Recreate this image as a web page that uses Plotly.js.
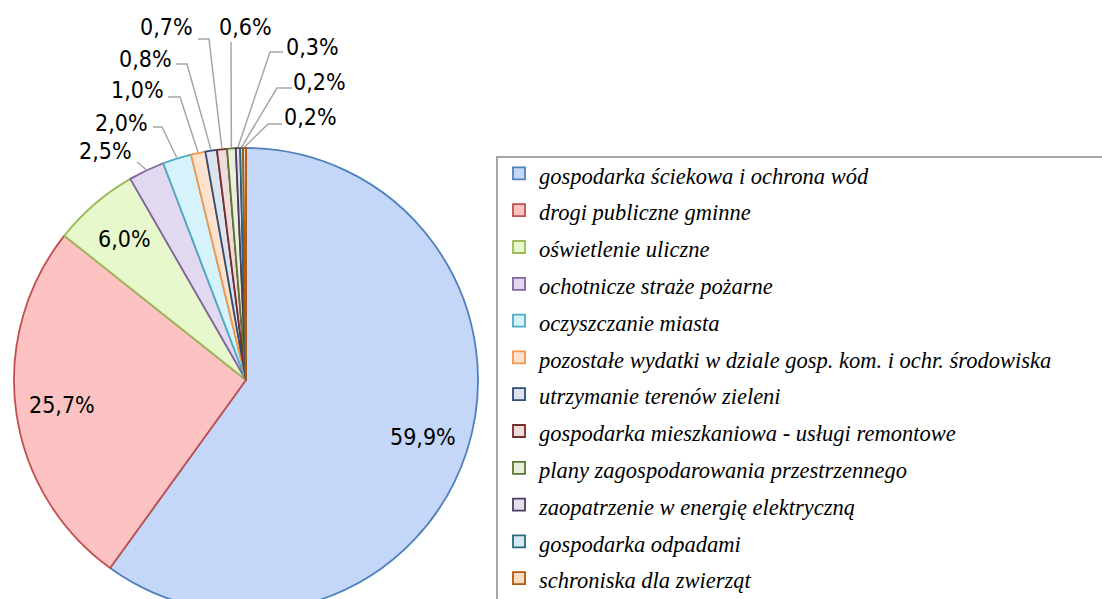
<!DOCTYPE html>
<html><head><meta charset="utf-8">
<script src="https://cdn.plot.ly/plotly-3.0.1.min.js"></script>
<style>html,body{margin:0;padding:0;overflow:hidden;background:#fff}#chart{width:1140px;height:640px}</style>
</head><body><div id="chart"></div>
<script>
// ---- data ----
const categories = [
  'gospodarka ściekowa i ochrona wód',
  'drogi publiczne gminne',
  'oświetlenie uliczne',
  'ochotnicze straże pożarne',
  'oczyszczanie miasta',
  'pozostałe wydatki w dziale gosp. kom. i ochr. środowiska',
  'utrzymanie terenów zieleni',
  'gospodarka mieszkaniowa - usługi remontowe',
  'plany zagospodarowania przestrzennego',
  'zaopatrzenie w energię elektryczną',
  'gospodarka odpadami',
  'schroniska dla zwierząt'
];
const values = [59.9, 25.7, 6.0, 2.5, 2.0, 1.0, 0.8, 0.7, 0.6, 0.3, 0.2, 0.2];

// ---- styles ----
const fillColors = ['#c4d7f9','#fdc2c2','#e7f8cd','#e2d9f1','#d6f3fc','#fde3cf','#dde3ec','#eddcdc','#e8efdc','#e4dfeb','#d7e9ee','#f9dcc6'];
const lineColors = ['#4f81bd','#c0504d','#9bbb59','#8064a2','#4bacc6','#f79646','#2c4d75','#772c2a','#5f7530','#4d3b62','#276a7c','#b65708'];

const W = 1140, H = 640;
const CX = 246, CY = 380, R = 232;
const labelFont = {family: 'Liberation Sans Narrow, DejaVu Sans Condensed, sans-serif', size: 23, color: '#000'};
const insideFrac = 0.8;
const outsideLabels = {
  3:  {t: [105,151], path: [[137,162]]},
  4:  {t: [121,123], path: [[153,127],[162,127]]},
  5:  {t: [137,90],  path: [[168,97],[180,97]]},
  6:  {t: [145,59],  path: [[176,64],[187,64]]},
  7:  {t: [166,27],  path: [[198,39],[209,39]]},
  8:  {t: [245,27],  path: [[231,42]]},
  9:  {t: [312,47],  path: [[283,52],[270,52]]},
  10: {t: [319,82],  path: [[292,88],[277,88]]},
  11: {t: [310,117], path: [[282,124],[268,124]]}
};

const total = values.reduce((a,b)=>a+b,0);
const px = x => x / W, py = y => 1 - y / H;
const pctText = values.map(v => v.toFixed(1).replace('.', ',') + '%');

const annotations = [], shapes = [];
let cum = 0;
values.forEach((v, i) => {
  const th = 2 * Math.PI * (cum + v / 2) / total;
  cum += v;
  const sx = Math.sin(th), cy = Math.cos(th);
  if (i < 3) {
    annotations.push({x: px(CX + insideFrac*R*sx), y: py(CY - insideFrac*R*cy), xref:'paper', yref:'paper',
      text: pctText[i], showarrow:false, font: labelFont, xanchor:'center', yanchor:'middle'});
  } else {
    const o = outsideLabels[i];
    annotations.push({x: px(o.t[0]), y: py(o.t[1]), xref:'paper', yref:'paper',
      text: pctText[i], showarrow:false, font: labelFont, xanchor:'center', yanchor:'middle'});
    const pts = o.path.concat([[CX + (R+1)*sx, CY - (R+1)*cy]]);
    const d = pts.map((p, k) => (k ? 'L' : 'M') + px(p[0]) + ',' + py(p[1])).join(' ');
    shapes.push({type:'path', xref:'paper', yref:'paper', path: d, line:{color:'#a6a6a6', width:1.5}});
  }
});

// legend frame (extends past the visible window like the reference)
shapes.push({type:'rect', xref:'paper', yref:'paper', x0: px(497), x1: px(1130), y0: py(630), y1: py(157),
  line:{color:'#a6a6a6', width:2}, fillcolor:'rgba(0,0,0,0)'});

const trace = {
  type: 'pie',
  labels: categories.map(c => '<span style="font-size:22.5px"><i>' + c + '</i></span>'),
  values: values,
  sort: false,
  direction: 'clockwise',
  rotation: 0,
  textinfo: 'none',
  hoverinfo: 'label+percent',
  marker: {colors: fillColors, line: {color: lineColors, width: 1.8}},
  domain: {x: [px(CX - R), px(CX + R)], y: [1 - (CY + R) / H, 1 - (CY - R) / H]}
};

const layout = {
  width: W, height: H,
  margin: {l:0, r:0, t:0, b:0, autoexpand:false},
  paper_bgcolor: '#fff',
  showlegend: true,
  legend: {x: px(499), y: py(150), xanchor:'left', yanchor:'top',
    font: {family:'Liberation Serif, serif', size:26, color:'#000'},
    borderwidth:0, bgcolor:'rgba(0,0,0,0)', itemclick:false, itemdoubleclick:false},
  annotations: annotations,
  shapes: shapes
};

Plotly.newPlot('chart', [trace], layout, {staticPlot:true, displayModeBar:false});
</script>
</body></html>
